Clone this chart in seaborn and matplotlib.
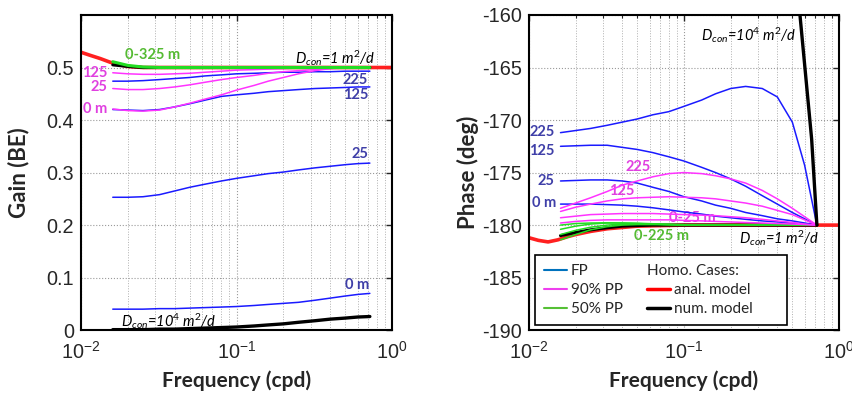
import numpy as np
import pandas as pd
import matplotlib
matplotlib.use("Agg")
import matplotlib.pyplot as plt
import seaborn as sns

sns.set_style("white")
plt.rcParams['font.family'] = ['Liberation Sans', 'DejaVu Sans']
plt.rcParams['mathtext.fontset'] = 'custom'
plt.rcParams['mathtext.rm'] = 'Lato'
plt.rcParams['mathtext.it'] = 'Lato:italic'
plt.rcParams['axes.unicode_minus'] = False

# ---------------- data ----------------
freq = [0.016, 0.02, 0.025, 0.032, 0.04, 0.05, 0.063, 0.08, 0.1, 0.13,
        0.16, 0.2, 0.25, 0.32, 0.4, 0.5, 0.6, 0.72]
freq_anal = [0.01, 0.0115, 0.0133, 0.0154, 0.0178, 0.02, 0.025, 0.032,
             0.05, 0.1, 0.2, 0.5, 1.0]

# Gain (BE)
gain_fp_0 = [0.040, 0.040, 0.040, 0.041, 0.041, 0.042, 0.043, 0.044, 0.045, 0.047,
             0.049, 0.051, 0.053, 0.057, 0.061, 0.065, 0.068, 0.070]
gain_fp_25 = [0.253, 0.253, 0.254, 0.258, 0.265, 0.272, 0.278, 0.284, 0.289, 0.294,
              0.298, 0.301, 0.305, 0.309, 0.312, 0.315, 0.317, 0.318]
gain_fp_125 = [0.420, 0.419, 0.418, 0.420, 0.425, 0.431, 0.438, 0.445, 0.448, 0.451,
               0.454, 0.456, 0.458, 0.460, 0.461, 0.462, 0.463, 0.463]
gain_fp_225 = [0.474, 0.474, 0.475, 0.477, 0.479, 0.481, 0.484, 0.486, 0.488, 0.489,
               0.490, 0.491, 0.491, 0.492, 0.492, 0.493, 0.493, 0.493]
gain_pp90_0 = [0.421, 0.418, 0.417, 0.419, 0.425, 0.432, 0.440, 0.448, 0.457, 0.466,
               0.474, 0.481, 0.488, 0.494, 0.498, 0.500, 0.500, 0.500]
gain_pp90_25 = [0.460, 0.458, 0.458, 0.460, 0.463, 0.467, 0.472, 0.477, 0.481, 0.485,
                0.489, 0.492, 0.494, 0.496, 0.498, 0.499, 0.500, 0.500]
gain_pp90_125 = [0.490, 0.488, 0.487, 0.487, 0.488, 0.489, 0.491, 0.493, 0.495, 0.496,
                 0.497, 0.498, 0.499, 0.500, 0.500, 0.500, 0.500, 0.500]
gain_pp50 = [0.511, 0.504, 0.501, 0.500, 0.500, 0.500, 0.500, 0.500, 0.500, 0.500,
             0.500, 0.500, 0.500, 0.500, 0.500, 0.500, 0.500, 0.500]
gain_num_d1 = [0.505, 0.502, 0.500, 0.500, 0.500, 0.500, 0.500, 0.500, 0.500, 0.500,
               0.500, 0.500, 0.500, 0.500, 0.500, 0.500, 0.500, 0.500]
gain_num_d1e4 = [0.001, 0.001, 0.001, 0.002, 0.002, 0.003, 0.004, 0.005, 0.006, 0.008,
                 0.010, 0.012, 0.015, 0.018, 0.021, 0.023, 0.025, 0.026]
gain_anal = [0.529, 0.523, 0.517, 0.510, 0.505, 0.502, 0.500, 0.500,
             0.500, 0.500, 0.500, 0.500, 0.500]

# Phase (deg)
phase_fp_0 = [-178.0, -178.0, -178.0, -178.05, -178.1, -178.2, -178.35, -178.55, -178.75,
              -178.95, -179.15, -179.3, -179.45, -179.6, -179.7, -179.8, -179.9, -180.0]
phase_fp_25 = [-175.8, -175.75, -175.7, -175.7, -175.8, -176.0, -176.4, -176.8, -177.3,
               -177.7, -178.1, -178.4, -178.8, -179.1, -179.4, -179.6, -179.8, -180.0]
phase_fp_125 = [-172.5, -172.45, -172.4, -172.4, -172.6, -172.8, -173.1, -173.5, -173.9,
                -174.5, -175.0, -175.6, -176.3, -177.2, -178.0, -178.8, -179.4, -180.0]
phase_fp_225 = [-171.2, -171.0, -170.8, -170.5, -170.2, -169.9, -169.5, -169.2, -168.7,
                -168.1, -167.5, -167.0, -166.8, -167.0, -167.8, -170.2, -174.3, -180.0]
phase_pp90_0 = [-179.8, -179.65, -179.55, -179.5, -179.5, -179.5, -179.5, -179.5, -179.55,
                -179.6, -179.65, -179.7, -179.75, -179.8, -179.85, -179.9, -179.95, -180.0]
phase_pp90_25 = [-179.3, -179.15, -179.0, -178.95, -178.9, -178.9, -178.9, -178.95, -179.0,
                 -179.05, -179.1, -179.2, -179.3, -179.45, -179.6, -179.75, -179.9, -180.0]
phase_pp90_125 = [-178.7, -178.3, -178.0, -177.7, -177.5, -177.4, -177.35, -177.3, -177.35,
                  -177.4, -177.5, -177.7, -177.9, -178.2, -178.6, -179.0, -179.5, -180.0]
phase_pp90_225 = [-178.4, -177.9, -177.4, -176.8, -176.2, -175.8, -175.4, -175.1, -175.0,
                  -175.1, -175.3, -175.6, -176.0, -176.7, -177.5, -178.4, -179.2, -180.0]
phase_pp50_a = [-181.4, -180.9, -180.45, -180.15, -180.0, -179.95, -179.95, -179.97, -180.0,
                -180.0, -180.0, -180.0, -180.0, -180.0, -180.0, -180.0, -180.0, -180.0]
phase_pp50_b = [-180.9, -180.5, -180.2, -180.0, -179.9, -179.88, -179.9, -179.95, -180.0,
                -180.0, -180.0, -180.0, -180.0, -180.0, -180.0, -180.0, -180.0, -180.0]
phase_pp50_c = [-180.4, -180.1, -179.9, -179.8, -179.8, -179.82, -179.87, -179.92, -179.96,
                -180.0, -180.0, -180.0, -180.0, -180.0, -180.0, -180.0, -180.0, -180.0]
phase_pp50_d = [-180.0, -179.85, -179.8, -179.78, -179.8, -179.85, -179.9, -179.95, -179.98,
                -180.0, -180.0, -180.0, -180.0, -180.0, -180.0, -180.0, -180.0, -180.0]
phase_num_d1 = [-181.0, -180.7, -180.45, -180.25, -180.1, -180.05, -180.0, -180.0, -180.0,
                -180.0, -180.0, -180.0, -180.0, -180.0, -180.0, -180.0, -180.0, -180.0]
freq_num_d1e4 = [0.5, 0.56, 0.666, 0.72]
phase_num_d1e4 = [-153.0, -160.0, -171.8, -180.0]
phase_anal = [-181.2, -181.45, -181.6, -181.4, -181.1, -180.9, -180.6, -180.35,
              -180.1, -180.0, -180.0, -180.0, -180.0]

legend_labels = ["FP", "90% PP", "50% PP", "Homo. Cases:", "anal. model", "num. model"]

# ---------------- style ----------------
C_BLUE = "#1a1aff"
C_MAG = "#ff33ff"
C_GRN = "#22dd22"
C_RED = "#ff2020"
T_BLUE = "#3f3fa8"
T_MAG = "#e040e0"
T_GRN = "#55bb33"
LBL = dict(family="Lato", fontweight="bold", fontsize=10.5)
ITAL = dict(family="Lato", fontstyle="italic", fontsize=10.5, color="black")

fig = plt.figure(figsize=(8.53, 3.94), dpi=100)
axL = fig.add_axes([0.095, 0.162, 0.3646, 0.800])
axR = fig.add_axes([0.620, 0.162, 0.3636, 0.800])


def line(ax, x, y, color, lw=1.1, z=2, **kw):
    df = pd.DataFrame({"f": x, "v": y})
    sns.lineplot(data=df, x="f", y="v", ax=ax, color=color, lw=lw,
                 sort=False, estimator=None, zorder=z, legend=False, **kw)


# ---------------- left: gain ----------------
line(axL, freq_anal, gain_anal, C_RED, lw=2.6, z=2)
line(axL, freq, gain_num_d1, "black", lw=2.2, z=3)
line(axL, freq, gain_num_d1e4, "black", lw=2.4, z=3)
for g in [gain_fp_0, gain_fp_25, gain_fp_125, gain_fp_225]:
    line(axL, freq, g, C_BLUE, z=4)
for g in [gain_pp90_0, gain_pp90_25, gain_pp90_125]:
    line(axL, freq, g, C_MAG, z=4)
line(axL, freq, gain_pp50, C_GRN, lw=2.2, z=5)

axL.set_xscale("log")
axL.set_xlim(0.01, 1.0)
axL.set_ylim(0, 0.6)
axL.set_yticks([0, 0.1, 0.2, 0.3, 0.4, 0.5])
axL.set_yticklabels(["0", "0.1", "0.2", "0.3", "0.4", "0.5"])
axL.set_ylabel("Gain (BE)", family="Lato", fontweight="bold", fontsize=16, labelpad=12)

axL.text(0.0192, 0.523, "0-325 m", color=T_GRN, ha="left", va="center", **LBL)
axL.text(0.78, 0.518, r"D$_{con}$=1 m$^2$/d", ha="right", va="center", **ITAL)
axL.text(0.0148, 0.490, "125", color=T_MAG, ha="right", va="center", **LBL)
axL.text(0.0148, 0.462, "25", color=T_MAG, ha="right", va="center", **LBL)
axL.text(0.0148, 0.421, "0 m", color=T_MAG, ha="right", va="center", **LBL)
axL.text(0.70, 0.477, "225", color=T_BLUE, ha="right", va="center", **LBL)
axL.text(0.70, 0.447, "125", color=T_BLUE, ha="right", va="center", **LBL)
axL.text(0.70, 0.335, "25", color=T_BLUE, ha="right", va="center", **LBL)
axL.text(0.71, 0.086, "0 m", color=T_BLUE, ha="right", va="center", **LBL)
axL.text(0.0181, 0.017, r"D$_{con}$=10$^4$ m$^2$/d", ha="left", va="center", **ITAL)

# ---------------- right: phase ----------------
line(axR, freq_anal, phase_anal, C_RED, lw=2.6, z=2)
line(axR, freq, phase_num_d1, "black", lw=2.2, z=3)
for p in [phase_pp50_a, phase_pp50_b, phase_pp50_c, phase_pp50_d]:
    line(axR, freq, p, C_GRN, lw=1.1, z=4)
for p in [phase_fp_0, phase_fp_25, phase_fp_125, phase_fp_225]:
    line(axR, freq, p, C_BLUE, z=4)
for p in [phase_pp90_0, phase_pp90_25, phase_pp90_125, phase_pp90_225]:
    line(axR, freq, p, C_MAG, z=4)
line(axR, freq_num_d1e4, phase_num_d1e4, "black", lw=2.4, z=5)

axR.set_xscale("log")
axR.set_xlim(0.01, 1.0)
axR.set_ylim(-190, -160)
axR.set_yticks([-190, -185, -180, -175, -170, -165, -160])
axR.set_ylabel("Phase (deg)", family="Lato", fontweight="bold", fontsize=16, labelpad=2)

axR.text(0.528, -161.9, r"D$_{con}$=10$^4$ m$^2$/d", ha="right", va="center", **ITAL)
axR.text(0.0147, -171.1, "225", color=T_BLUE, ha="right", va="center", **LBL)
axR.text(0.0147, -172.9, "125", color=T_BLUE, ha="right", va="center", **LBL)
axR.text(0.0147, -175.8, "25", color=T_BLUE, ha="right", va="center", **LBL)
axR.text(0.0150, -177.9, "0 m", color=T_BLUE, ha="right", va="center", **LBL)
axR.text(0.0505, -174.5, "225", color=T_MAG, ha="center", va="center", **LBL)
axR.text(0.0398, -176.8, "125", color=T_MAG, ha="center", va="center", **LBL)
axR.text(0.113, -179.3, "0-25 m", color=T_MAG, ha="center", va="center", **LBL)
axR.text(0.072, -181.0, "0-225 m", color=T_GRN, ha="center", va="center", **LBL)
axR.text(0.226, -181.2, r"D$_{con}$=1 m$^2$/d", ha="left", va="center", **ITAL)

# legend
from matplotlib.lines import Line2D
handles = [
    Line2D([], [], color="#0072BD", lw=1.5),
    Line2D([], [], color="#ee3fee", lw=1.5),
    Line2D([], [], color="#55c035", lw=1.5),
    Line2D([], [], color="none", lw=0),
    Line2D([], [], color="#ff0000", lw=2.5),
    Line2D([], [], color="black", lw=2.5),
]
labels = list(legend_labels)
labels[4] = labels[4] + "       "
leg = axR.legend(handles, labels, ncol=2, loc="lower left",
                 bbox_to_anchor=(0.019, 0.016), frameon=True, fancybox=False,
                 prop={"family": "Lato", "size": 11}, handlelength=1.5,
                 handletextpad=0.25, columnspacing=1.6, labelspacing=0.32,
                 borderpad=0.6, borderaxespad=0.0)
leg.get_frame().set_edgecolor("black")
leg.get_frame().set_linewidth(1.2)
leg.get_frame().set_alpha(1)
leg.set_zorder(10)
hdr = leg.get_texts()[3]
hdr.set_x(-(1.5 + 0.25) * 11 * 100 / 72)

# common formatting
for ax in (axL, axR):
    ax.set_xlabel("Frequency (cpd)", family="Lato", fontweight="bold", fontsize=15, labelpad=6)
    ax.grid(True, which="major", ls=":", color="#9a9a9a", lw=0.8)
    ax.grid(True, which="minor", ls=":", color="#b0b0b0", lw=0.7)
    ax.set_axisbelow(True)
    ax.tick_params(which="both", direction="in", top=True, right=True,
                   labelsize=14.3, pad=5)
    ax.tick_params(axis="x", which="major", pad=7.5)
    ax.tick_params(which="major", length=4, width=1.0)
    ax.tick_params(which="minor", length=2.5, width=0.8)
    for s in ax.spines.values():
        s.set_color("black")
        s.set_linewidth(1.5)

fig.savefig("out.png", dpi=100)
